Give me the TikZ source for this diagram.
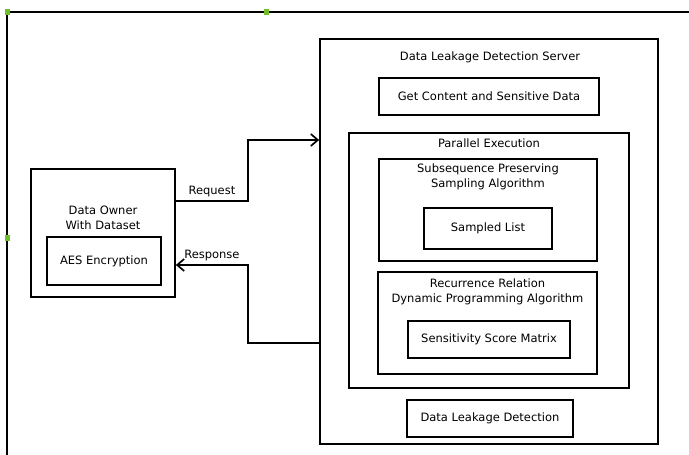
\documentclass[tikz,border=0pt]{standalone}
\usepackage{fontspec}
\setmainfont{DejaVu Sans}
\usetikzlibrary{arrows.meta,positioning}
\definecolor{handle}{RGB}{112,190,40}

\begin{document}
\begin{tikzpicture}[x=1pt, y=-1pt, font=\fontsize{11.5}{15}\selectfont,
  box/.style={rectangle, draw, line width=1.7pt, inner sep=0pt},
  title/.style={align=center, inner sep=0pt},
  link/.style={line width=1.7pt, -{Straight Barb[length=7pt,width=12pt]}}]
 \useasboundingbox (0,0) rectangle (689,455);
 % frame of the screenshot
 \draw[line width=1.3pt] (7,455) -- (7,12) -- (689,12);
 \foreach \hx/\hy in {7/12, 266/12, 7/238}
   \fill[handle] (\hx-2.5,\hy-3) rectangle (\hx+2.5,\hy+3);

 % data owner
 \node (owner) [box, minimum width=144pt, minimum height=128pt] at (103,233) {};
 \node (ownertitle) [title] at (103,217.5) {Data Owner\\With Dataset};
 \node (aes) [box, minimum width=114pt, minimum height=48pt] at (104,261) {AES Encryption};

 % server
 \node (server) [box, minimum width=338pt, minimum height=405pt] at (489,241.5) {};
 \node (servertitle) [title] at (490,57) {Data Leakage Detection Server};
 \node (content) [box, minimum width=220pt, minimum height=37pt] at (489,96.5) {Get Content and Sensitive Data};
 \node (parallel) [box, minimum width=280pt, minimum height=255pt] at (489,260.5) {};
 \node (paralleltitle) [title] at (489,143) {Parallel Execution};
 \node (sampling) [box, minimum width=218pt, minimum height=102pt] at (488,210) {};
 \node (samplingtitle) [title] at (488,176.5) {Subsequence Preserving\\Sampling Algorithm};
 \node (sampled) [box, minimum width=128pt, minimum height=41pt] at (488,228.5) {Sampled List};
 \node (dynamic) [box, minimum width=219pt, minimum height=102pt] at (487.5,323) {};
 \node (dynamictitle) [title] at (487.5,291.5) {Recurrence Relation\\Dynamic Programming Algorithm};
 \node (matrix) [box, minimum width=162pt, minimum height=37pt] at (489,339.5) {Sensitivity Score Matrix};
 \node (detection) [box, minimum width=166pt, minimum height=37pt] at (490,418.5) {Data Leakage Detection};

 % request and response
 \coordinate (bend) at (248,0);
 \draw[link] ([yshift=32pt]owner.east) -- node[above] {Request} ([yshift=32pt]owner.east -| bend)
   |- ([yshift=101.5pt]server.west);
 \draw[link] ([yshift=-101.5pt]server.west) -| ([yshift=-32pt]owner.east -| bend)
   -- node[above] {Response} ([yshift=-32pt]owner.east);
\end{tikzpicture}
\end{document}
